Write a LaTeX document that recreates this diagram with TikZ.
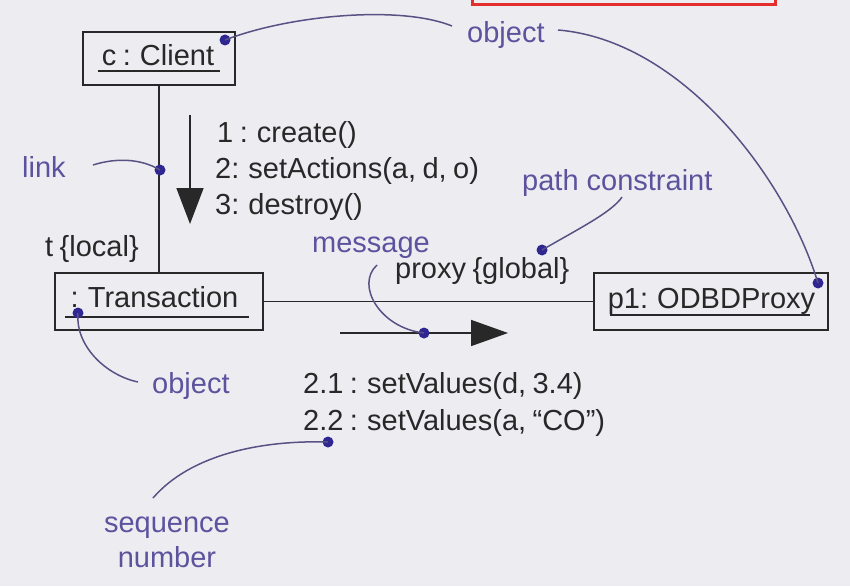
\documentclass[tikz,border=0pt]{standalone}
\usepackage{fontspec}
\setmainfont{Liberation Sans}
\newfontfamily\tightsans[WordSpace=0.8]{Liberation Sans}
\usetikzlibrary{arrows.meta}
\definecolor{bg}{RGB}{237,237,241}
\definecolor{ink}{RGB}{40,40,40}
\definecolor{note}{RGB}{92,82,158}
\definecolor{dotc}{RGB}{48,38,145}
\definecolor{curvec}{RGB}{88,82,132}
\definecolor{redline}{RGB}{228,45,45}
\begin{document}
\begin{tikzpicture}[x=1pt,y=-1pt,
  txt/.style={font=\tightsans\fontsize{29}{34}\selectfont, text=ink, inner sep=0pt},
  lbl/.style={font=\fontsize{29}{34}\selectfont, text=note, inner sep=0pt},
  objbox/.style={draw=ink, line width=2pt, inner sep=0pt},
  uline/.style={draw=ink, line width=2pt},
  conn/.style={draw=ink, line width=1.6pt},
  noteline/.style={draw=curvec, line width=1.5pt},
  dot/.style={circle, fill=dotc, inner sep=0pt, minimum size=11pt},
]
\fill[bg] (0,0) rectangle (850,586);
\useasboundingbox (0,0) rectangle (850,586);

% red frame remnant at the top
\draw[redline, line width=3pt] (472,-2) -- (472,5) -- (775,5) -- (775,-2);

% object boxes
\node[objbox, minimum width=152pt, minimum height=53pt] (client) at (159,58.5) {};
\node[objbox, minimum width=208pt, minimum height=57pt] (trans) at (159,301.5) {};
\node[objbox, minimum width=234pt, minimum height=57pt] (proxy) at (711,301.5) {};

\node[txt, anchor=base] (clientt) at (158,65) {c : Client};
\node[txt, anchor=base] (transt) at (154.5,307) {: Transaction};
\node[txt, anchor=base] (proxyt) at (711.5,308) {p1: ODBDProxy};

\draw[uline] ([shift={(-4pt,-6pt)}]clientt.base west) -- ([shift={(6pt,-6pt)}]clientt.base east);
\draw[uline] ([shift={(-5pt,-10pt)}]transt.base west) -- ([shift={(10pt,-10pt)}]transt.base east);
\draw[uline] ([shift={(2pt,-7pt)}]proxyt.base west) -- ([shift={(-5pt,-7pt)}]proxyt.base east);

% links
\draw[conn] (client.south) -- (trans.north);
\draw[conn] (trans.east) -- (proxy.west);

% messages text
\node[txt, anchor=base west] (m1) at (217,142) {1 : create()};
\node[txt, anchor=base west] (m2) at (215,178) {2: setActions(a, d, o)};
\node[txt, anchor=base west] (m3) at (215,214) {3: destroy()};
\node[txt, anchor=base west] (tl) at (45,256) {t \{local\}};
\node[txt, anchor=base west] (pg) at (395,278) {proxy \{global\}};
\node[txt, anchor=base west] (s1) at (303,393) {2.1 : setValues(d, 3.4)};
\node[txt, anchor=base west] (s2) at (303,430) {2.2 : setValues(a, “CO”)};

% message arrows
\coordinate (a1s) at (190,115);
\coordinate (a1e) at (190,224);
\draw[conn, -{Triangle[length=36pt,width=27pt]}] (a1s) -- (a1e);
\coordinate (a2s) at (340,333);
\coordinate (a2e) at (508,333);
\draw[conn, -{Triangle[length=37pt,width=26pt]}] (a2s) -- (a2e);

% annotation labels
\node[lbl, anchor=base west] (objtop) at (467,42) {object};
\node[lbl, anchor=base west] (link) at (22,177) {link};
\node[lbl, anchor=base west] (pc) at (522,190) {path constraint};
\node[lbl, anchor=base west] (msg) at (312,252) {message};
\node[lbl, anchor=base west] (objbot) at (152,393) {object};
\node[lbl, anchor=base] (seq1) at (167,532) {sequence};
\node[lbl, anchor=base] (seq2) at (167,567) {number};

% annotation dots
\node[dot] (d1) at (225,40) {};
\node[dot] (d2) at (818,283) {};
\node[dot] (d3) at (160,170) {};
\node[dot] (d4) at (78,313) {};
\node[dot] (d5) at (542,250) {};
\node[dot] (d6) at (424,333) {};
\node[dot] (d7) at (328,442) {};

% annotation curves
\coordinate (c1) at (452,26);
\coordinate (c2) at (558,30);
\coordinate (c3) at (93,165);
\coordinate (c4) at (622,197);
\coordinate (c5) at (377,265);
\coordinate (c6) at (138,382);
\coordinate (c7) at (153,498);
\draw[noteline] (d1.center) .. controls (290,15) and (400,5) .. (c1);
\draw[noteline] (c2) .. controls (680,40) and (785,175) .. (d2.center);
\draw[noteline] (c3) .. controls (115,158) and (140,158) .. (d3.center);
\draw[noteline] (c4) .. controls (612,212) and (580,228) .. (d5.center);
\draw[noteline] (c5) .. controls (355,285) and (380,328) .. (d6.center);
\draw[noteline] (d4.center) .. controls (75,345) and (105,375) .. (c6);
\draw[noteline] (c7) .. controls (190,455) and (260,440) .. (d7.center);
\end{tikzpicture}
\end{document}
